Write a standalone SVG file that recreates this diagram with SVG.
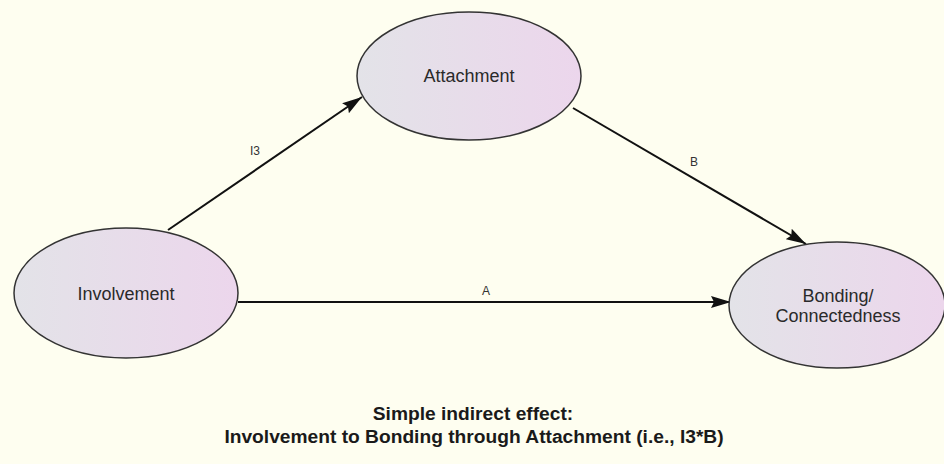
<svg xmlns="http://www.w3.org/2000/svg" width="944" height="464" viewBox="0 0 944 464">
  <defs>
    <linearGradient id="nodeFill" x1="0" y1="0" x2="1" y2="0">
      <stop offset="0" stop-color="#e3e3e8"/>
      <stop offset="1" stop-color="#ecd6ec"/>
    </linearGradient>
    <marker id="arrow" viewBox="0 0 20 12" refX="20" refY="6" markerWidth="20" markerHeight="12" markerUnits="userSpaceOnUse" orient="auto">
      <path d="M0,0 L20,6 L0,12 L3,6 Z" fill="#111"/>
    </marker>
    <style>
      .node ellipse { fill: url(#nodeFill); stroke: #333; stroke-width: 1.5; }
      .node text { font-family: "Liberation Sans", Arial, sans-serif; font-size: 18px; fill: #2a2a2a; text-anchor: middle; }
      .edge { stroke: #111; stroke-width: 2; fill: none; marker-end: url(#arrow); }
      .elabel { font-family: "Liberation Sans", Arial, sans-serif; font-size: 12px; fill: #333; text-anchor: middle; }
      .title { font-family: "Liberation Sans", Arial, sans-serif; font-size: 19.2px; font-weight: bold; fill: #1a1a1a; text-anchor: middle; }
    </style>
  </defs>

  <rect width="944" height="464" fill="#fefef0"/>

  <g id="connectors">
    <line class="edge" x1="168" y1="230" x2="362" y2="97"/>
    <line class="edge" x1="573" y1="108" x2="806" y2="244"/>
    <line class="edge" x1="238" y1="302" x2="731" y2="302"/>
    <text class="elabel" x="255" y="155">I3</text>
    <text class="elabel" x="694" y="166">B</text>
    <text class="elabel" x="486" y="295">A</text>
  </g>

  <g id="attachment" class="node">
    <ellipse cx="469" cy="76" rx="112" ry="64"/>
    <text x="469" y="82">Attachment</text>
  </g>

  <g id="involvement" class="node">
    <ellipse cx="126" cy="293" rx="112" ry="65"/>
    <text x="126" y="300">Involvement</text>
  </g>

  <g id="bonding" class="node">
    <ellipse cx="837" cy="305" rx="108" ry="63"/>
    <text x="838" y="302">Bonding/</text>
    <text x="838" y="322">Connectedness</text>
  </g>

  <g id="caption">
    <text class="title" x="473" y="420">Simple indirect effect:</text>
    <text class="title" x="474" y="443">Involvement to Bonding through Attachment (i.e., I3*B)</text>
  </g>
</svg>
